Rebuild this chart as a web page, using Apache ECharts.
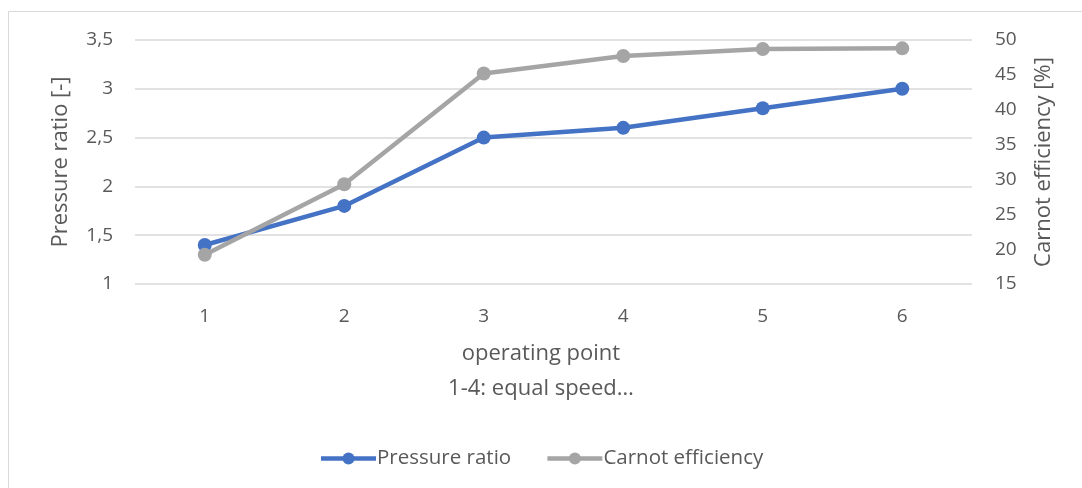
<!DOCTYPE html>
<html><head><meta charset="utf-8">
<script src="https://cdn.jsdelivr.net/npm/echarts@6/dist/echarts.min.js"></script>
<style>html,body{margin:0;padding:0;background:#fff}#c{width:1082px;height:488px}</style>
</head><body><div id="c"></div>
<script>
const categories = ['1','2','3','4','5','6'];
const pressureRatio = [1.4, 1.8, 2.5, 2.6, 2.8, 3.0];
const carnotEfficiency = [19.2, 29.3, 45.2, 47.7, 48.7, 48.8];
const leftTicks = {min: 1, max: 3.5, interval: 0.5};
const rightTicks = {min: 15, max: 50, interval: 5};
const xTitle = 'operating point\n1-4: equal speed…';

const font = '"Open Sans", "Liberation Sans", sans-serif';
const txt = '#595959';
const chart = echarts.init(document.getElementById('c'), null, {renderer: 'canvas'});
chart.setOption({
  animation: false,
  graphic: [{type: 'rect', shape: {x: 8.5, y: 11.5, width: 1085, height: 490}, style: {fill: 'none', stroke: '#d9d9d9', lineWidth: 1}, silent: true},
    {type: 'text', left: 'center', top: 336, style: {text: xTitle, fill: txt, font: '22px ' + font, textAlign: 'center', lineHeight: 35}}],
  grid: {left: 135, right: 110, top: 40, bottom: 204},
  legend: {bottom: 14, left: 'center', itemWidth: 55, itemHeight: 15, itemGap: 34,
    textStyle: {color: txt, fontSize: 20.5, fontFamily: font, padding: [0,0,0,-4]},
    lineStyle: {width: 4.5},
    data: ['Pressure ratio', 'Carnot efficiency']},
  xAxis: {type: 'category', data: categories, boundaryGap: true,
    axisLine: {show: false}, axisTick: {show: false},
    axisLabel: {color: txt, fontSize: 19, fontFamily: font, margin: 23}},
  yAxis: [
    {type: 'value', min: leftTicks.min, max: leftTicks.max, interval: leftTicks.interval,
     name: 'Pressure ratio [-]', nameLocation: 'middle', nameGap: 63, nameRotate: 90,
     nameTextStyle: {color: txt, fontSize: 22, fontFamily: font},
     axisLabel: {color: txt, fontSize: 19, fontFamily: font, margin: 22, formatter: v => String(v).replace('.', ',')},
     splitLine: {lineStyle: {color: '#d9d9d9', width: 1.5}}, axisLine: {show: false}, axisTick: {show: false}},
    {type: 'value', min: rightTicks.min, max: rightTicks.max, interval: rightTicks.interval,
     name: 'Carnot efficiency [%]', nameLocation: 'middle', nameGap: 61, nameRotate: 90,
     nameTextStyle: {color: txt, fontSize: 22, fontFamily: font},
     axisLabel: {color: txt, fontSize: 19, fontFamily: font, margin: 23},
     splitLine: {show: false}, axisLine: {show: false}, axisTick: {show: false}}
  ],
  series: [
    {name: 'Pressure ratio', type: 'line', yAxisIndex: 0, data: pressureRatio,
     symbol: 'circle', symbolSize: 14, lineStyle: {color: '#4472C4', width: 4.5}, itemStyle: {color: '#4472C4'}},
    {name: 'Carnot efficiency', type: 'line', yAxisIndex: 1, data: carnotEfficiency,
     symbol: 'circle', symbolSize: 14, lineStyle: {color: '#A5A5A5', width: 4.5}, itemStyle: {color: '#A5A5A5'}}
  ]
});
</script></body></html>
